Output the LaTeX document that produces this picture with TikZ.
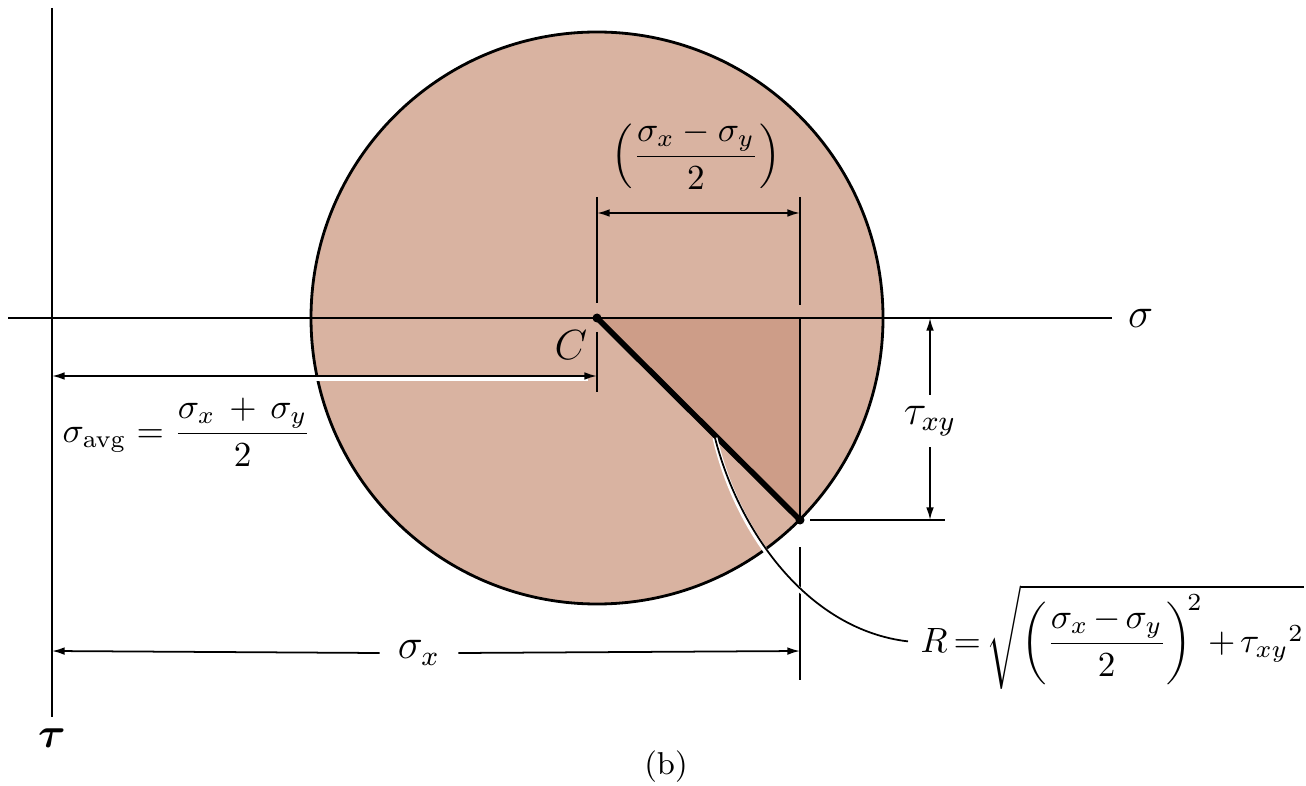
\documentclass[tikz,border=0pt]{standalone}
\usepackage{amsmath,amssymb}
\usepackage{tikz}
\usepackage{xcolor}
\usetikzlibrary{arrows.meta,calc,positioning}
\definecolor{circfill}{HTML}{D9B3A1}
\definecolor{trifill}{HTML}{CD9D88}
\tikzset{
  axisline/.style={line width=0.7pt},
  extline/.style={line width=0.5pt},
  dimline/.style={line width=0.5pt, {Latex[length=3.6pt,width=2.2pt]}-{Latex[length=3.6pt,width=2.2pt]}},
  mathlbl/.style={font=\fontsize{11.5}{14}\selectfont, inner sep=1pt},
  fraclbl/.style={font=\fontsize{10.2}{12}\selectfont, inner sep=1pt},
  gaplbl/.style={mathlbl, fill=white, inner sep=3pt},
}

\begin{document}
\begin{tikzpicture}[x=1cm,y=1cm]
    \useasboundingbox (0,0) rectangle (13.06,-7.86);

    % Key points
    \coordinate (C) at (5.97,-3.18);
    \coordinate (X) at (8.00,-5.20);
    \coordinate (A) at (8.00,-3.18);

    % Circle and shaded triangle
    \fill[circfill] (C) circle (2.86);
    \fill[trifill] (C) -- (A) -- (X) -- cycle;
    \draw[line width=0.8pt] (C) circle (2.86);
    \draw[extline] (A) -- (X);

    % Axes
    \coordinate (sigL) at (0.08,-3.18);
    \coordinate (sigR) at (11.12,-3.18);
    \coordinate (tauT) at (0.52,-0.08);
    \coordinate (tauB) at (0.52,-7.17);
    \draw[axisline] (sigL) -- (sigR);
    \draw[axisline] (tauT) -- (tauB);
    \node[mathlbl, right=0.12cm of sigR] (sigma) {$\sigma$};
    \node[mathlbl, below=0.08cm of tauB] (tau) {$\boldsymbol{\tau}$};

    % Radius C to X
    \draw[line width=1.6pt] (C) -- (X);
    \fill (C) circle (0.045);
    \fill (X) circle (0.045);
    \node[mathlbl] (clbl) at (5.71,-3.45) {$C$};

    % Dimension (sigma_x - sigma_y)/2
    \coordinate (d1a) at (5.97,-1.97);
    \coordinate (d1b) at (5.97,-3.03);
    \coordinate (d1c) at (8.00,-1.97);
    \coordinate (d1d) at (8.00,-3.05);
    \draw[extline] (d1a) -- (d1b);
    \draw[extline] (d1c) -- (d1d);
    \draw[dimline] (5.97,-2.13) -- (8.00,-2.13);
    \node[fraclbl] (halfdiff) at (6.96,-1.55) {$\left(\dfrac{\sigma_x - \sigma_y}{2}\right)$};

    % Dimension sigma_avg
    \coordinate (d2a) at (5.97,-3.32);
    \coordinate (d2b) at (5.97,-3.92);
    \draw[extline] (d2a) -- (d2b);
    \draw[white, line width=1.2pt] (0.60,-3.79) -- (5.88,-3.79);
    \draw[dimline] (0.52,-3.76) -- (5.97,-3.76);
    \node[fraclbl] (savg) at (1.87,-4.32) {$\sigma_{\mathrm{avg}} = \dfrac{\sigma_x \,+\, \sigma_y}{2}$};

    % Dimension tau_xy
    \coordinate (d3a) at (8.10,-5.20);
    \coordinate (d3b) at (9.45,-5.20);
    \draw[extline] (d3a) -- (d3b);
    \node[gaplbl] (tauxy) at (9.30,-4.21) {$\tau_{xy}$};
    \draw[extline, -{Latex[length=3.6pt,width=2.2pt]}] (tauxy.north) -- (9.30,-3.18);
    \draw[extline, -{Latex[length=3.6pt,width=2.2pt]}] (tauxy.south) -- (9.30,-5.20);

    % Dimension sigma_x
    \coordinate (d4a) at (8.00,-5.47);
    \coordinate (d4b) at (8.00,-6.80);
    \draw[extline] (d4a) -- (d4b);
    \node[gaplbl, inner sep=5pt] (sigx) at (4.19,-6.53) {$\sigma_x$};
    \draw[extline, -{Latex[length=3.6pt,width=2.2pt]}] (sigx.west) -- (0.52,-6.51);
    \draw[extline, -{Latex[length=3.6pt,width=2.2pt]}] (sigx.east) -- (8.00,-6.51);

    % Radius formula and leader
    \node[fraclbl, font=\fontsize{9.8}{12}\selectfont, inner sep=0pt, anchor=base west] (rlbl) at (9.20,-6.52)
        {$\thickmuskip=3mu \medmuskip=2.5mu
          R = \sqrt{\left(\dfrac{\sigma_x - \sigma_y}{2}\right)^{\!2} + {\tau_{xy}}^{2}}$};
    \coordinate (lead0) at (7.15,-4.38);
    \coordinate (lead1) at ($(rlbl.west)+(-0.12,-0.04)$);
    \draw[white, line width=1.4pt, xshift=-0.7pt] (lead0) .. controls (7.40,-5.35) and (8.1,-6.3) .. (lead1);
    \draw[line width=0.5pt] (lead0) .. controls (7.40,-5.35) and (8.1,-6.3) .. (lead1);

    % Caption
    \node[font=\small] (cap) at (6.66,-7.67) {(b)};
\end{tikzpicture}
\end{document}
